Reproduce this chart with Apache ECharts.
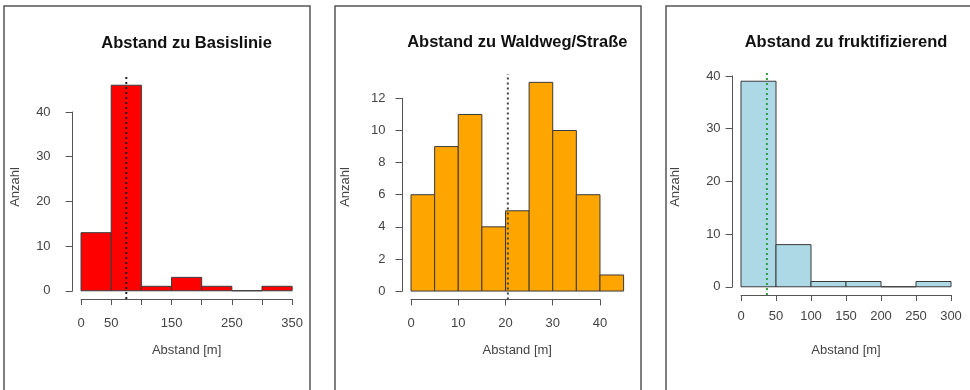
<!DOCTYPE html>
<html>
<head>
<meta charset="utf-8">
<script src="https://cdn.jsdelivr.net/npm/echarts@6/dist/echarts.min.js"></script>
<style>
  html, body { margin: 0; padding: 0; background: #fff; }
  #chart { width: 970px; height: 390px; }
</style>
</head>
<body>
<div id="chart"></div>
<script>
// Histogram: Abstand zu Basislinie (bin width 50 m)
const basisBreaks = [0, 50, 100, 150, 200, 250, 300, 350];
const basisCounts = [13, 46, 1, 3, 1, 0, 1];
const basisMean = 75;
const basisXTicks = [0, 350, 50];   // min, max, interval
const basisXLabels = [0, 50, 150, 250, 350];
const basisYTicks = [0, 40, 10];

// Histogram: Abstand zu Waldweg/Straße (bin width 5 m)
const wegBreaks = [0, 5, 10, 15, 20, 25, 30, 35, 40, 45];
const wegCounts = [6, 9, 11, 4, 5, 13, 10, 6, 1];
const wegMean = 20.5;
const wegXTicks = [0, 40, 10];
const wegXLabels = [0, 10, 20, 30, 40];
const wegYTicks = [0, 12, 2];

// Histogram: Abstand zu fruktifizierend (bin width 50 m)
const fruktBreaks = [0, 50, 100, 150, 200, 250, 300];
const fruktCounts = [39, 8, 1, 1, 0, 1];
const fruktMean = 37;
const fruktXTicks = [0, 300, 50];
const fruktXLabels = [0, 50, 100, 150, 200, 250, 300];
const fruktYTicks = [0, 40, 10];

const titles = ['Abstand zu Basislinie', 'Abstand zu Waldweg/Straße', 'Abstand zu fruktifizierend'];
const xName = 'Abstand [m]';
const yName = 'Anzahl';

const panels = [
  { breaks: basisBreaks, counts: basisCounts, mean: basisMean, xt: basisXTicks, xl: basisXLabels, yt: basisYTicks,
    fill: '#ff0000', meanColor: '#222222', L: 72.6, T: 77, W: 228, H: 222, box: [4, 6, 306, 400],
    xMargin: 18, yMargin: 22, titleY: 43 },
  { breaks: wegBreaks, counts: wegCounts, mean: wegMean, xt: wegXTicks, xl: wegXLabels, yt: wegYTicks,
    fill: '#ffa500', meanColor: '#444444', L: 402.5, T: 74, W: 229.6, H: 225.4, box: [335, 6, 306, 400],
    xMargin: 18, yMargin: 17, titleY: 42 },
  { breaks: fruktBreaks, counts: fruktCounts, mean: fruktMean, xt: fruktXTicks, xl: fruktXLabels, yt: fruktYTicks,
    fill: '#add8e6', meanColor: '#2e9e3e', L: 732.6, T: 73, W: 226.8, H: 222, box: [666, 6, 320, 400],
    xMargin: 15, yMargin: 12, titleY: 42 }
];

const grids = [], xAxes = [], yAxes = [], series = [], graphics = [];
const textColor = '#444444';
const font = 'Liberation Sans, Arial, sans-serif';

panels.forEach((p, i) => {
  // data range with the usual 4 % padding on each side
  const x0 = p.breaks[0], x1 = p.breaks[p.breaks.length - 1];
  const ymax = Math.max(...p.counts);
  const xr = [x0 - 0.04 * (x1 - x0), x1 + 0.04 * (x1 - x0)];
  const yr = [-0.04 * ymax, ymax * 1.04];
  const sx = p.W / (xr[1] - xr[0]);
  const sy = p.H / (yr[1] - yr[0]);

  // plot region carrying the bars (hidden axes)
  const g = grids.length;
  grids.push({ left: p.L, top: p.T, width: p.W, height: p.H });
  xAxes.push({ gridIndex: g, type: 'value', min: xr[0], max: xr[1], show: false });
  yAxes.push({ gridIndex: g, type: 'value', min: yr[0], max: yr[1], show: false });

  // visible x axis spanning the tick range only
  const gx = grids.length;
  grids.push({ left: p.L + (p.xt[0] - xr[0]) * sx, width: (p.xt[1] - p.xt[0]) * sx, top: p.T, height: p.H });
  xAxes.push({
    gridIndex: gx, type: 'value', min: p.xt[0], max: p.xt[1], interval: p.xt[2], position: 'bottom',
    axisLine: { show: true, lineStyle: { color: '#555', width: 1 } },
    axisTick: { show: true, length: 6, lineStyle: { color: '#555' } },
    axisLabel: {
      color: textColor, fontSize: 13, fontFamily: font, margin: p.xMargin,
      showMinLabel: true, showMaxLabel: true, hideOverlap: false,
      formatter: v => (p.xl.indexOf(v) >= 0 ? String(v) : '')
    },
    splitLine: { show: false }
  });
  yAxes.push({ gridIndex: gx, type: 'value', show: false });

  // visible y axis spanning the tick range only
  const gy = grids.length;
  grids.push({ left: p.L, width: p.W, top: p.T + (yr[1] - p.yt[1]) * sy, height: (p.yt[1] - p.yt[0]) * sy });
  xAxes.push({ gridIndex: gy, type: 'value', show: false });
  yAxes.push({
    gridIndex: gy, type: 'value', min: p.yt[0], max: p.yt[1], interval: p.yt[2], position: 'left',
    axisLine: { show: true, lineStyle: { color: '#555', width: 1 } },
    axisTick: { show: true, length: 7, lineStyle: { color: '#555' } },
    axisLabel: { color: textColor, fontSize: 13, fontFamily: font, margin: p.yMargin },
    splitLine: { show: false }
  });

  // histogram bars
  const bins = p.counts.map((c, k) => [p.breaks[k], p.breaks[k + 1], c]);
  series.push({
    type: 'custom', xAxisIndex: g, yAxisIndex: g, data: bins, silent: true,
    renderItem: (params, api) => {
      const a = api.coord([api.value(0), api.value(2)]);
      const b = api.coord([api.value(1), 0]);
      return {
        type: 'rect',
        shape: { x: a[0], y: a[1], width: b[0] - a[0], height: b[1] - a[1] },
        style: { fill: p.fill, stroke: '#3a3a3a', lineWidth: 1 }
      };
    }
  });

  // dotted vertical line at the mean, spanning the plot region
  series.push({
    type: 'line', xAxisIndex: g, yAxisIndex: g, data: [[p.mean, yr[0]], [p.mean, yr[1]]],
    symbol: 'none', silent: true,
    lineStyle: { color: p.meanColor, width: 2, type: [2, 3] }
  });

  // panel frame
  graphics.push({
    type: 'rect', shape: { x: p.box[0], y: p.box[1], width: p.box[2], height: p.box[3] },
    style: { fill: null, stroke: '#555', lineWidth: 1.5 }, z: 10
  });
  const cx = p.L + p.W / 2;
  graphics.push({
    type: 'text', x: cx, y: p.titleY,
    style: { text: titles[i], fill: '#111', font: 'bold 16.5px ' + font, textAlign: 'center', textVerticalAlign: 'middle' }
  });
  graphics.push({
    type: 'text', x: cx, y: 350,
    style: { text: xName, fill: textColor, font: '13px ' + font, textAlign: 'center', textVerticalAlign: 'middle' }
  });
  graphics.push({
    type: 'text', x: p.L - 57, y: 187, rotation: Math.PI / 2,
    style: { text: yName, fill: textColor, font: '13px ' + font, textAlign: 'center', textVerticalAlign: 'middle' }
  });
});

const chart = echarts.init(document.getElementById('chart'), null, { renderer: 'canvas' });
chart.setOption({
  animation: false,
  backgroundColor: '#ffffff',
  grid: grids,
  xAxis: xAxes,
  yAxis: yAxes,
  series: series,
  graphic: graphics
});
</script>
</body>
</html>
